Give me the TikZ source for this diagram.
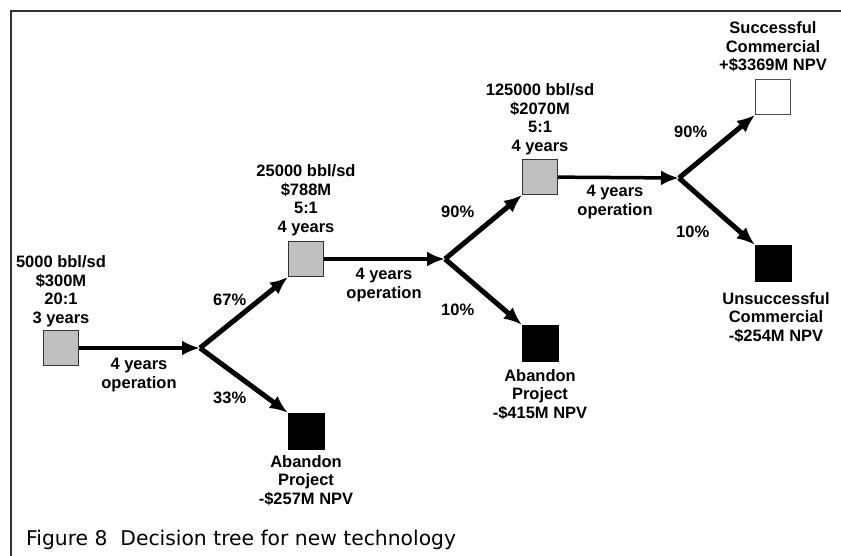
\documentclass[tikz,border=0pt]{standalone}
\usepackage{fontspec}
\setmainfont{Liberation Sans}
\newfontfamily\capfont{DejaVu Sans}
\usetikzlibrary{arrows.meta}
\definecolor{boxgrey}{RGB}{192,192,192}
\tikzset{
  greybox/.style={draw=black!80, line width=1pt, fill=boxgrey, minimum size=35pt, inner sep=0pt},
  blackbox/.style={draw=black, fill=black, minimum size=36pt, inner sep=0pt},
  whitebox/.style={draw=black!70, line width=1pt, fill=white, minimum size=35pt, inner sep=0pt},
  txt/.style={align=center, inner sep=0pt, font=\fontsize{16.5}{18.5}\selectfont\bfseries},
  flow/.style={line width=3.5pt, -{Latex[length=18pt,width=15pt]}},
  branch/.style={line width=5pt, -{Latex[length=18pt,width=15pt]}}
}
\begin{document}
\begin{tikzpicture}[x=1pt,y=-1pt]
      \useasboundingbox (0,0) rectangle (841,556);
      \draw [line width=2pt, black!80] (11,556) -- (11,11) -- (841,11);
      % boxes
      \draw (61,348) node [greybox] (b1) {};
      \draw (306,259) node [greybox] (b2) {};
      \draw (306,431) node [blackbox] (b3) {};
      \draw (540,177) node [greybox] (b4) {};
      \draw (540,343) node [blackbox] (b5) {};
      \draw (773,97) node [whitebox] (b6) {};
      \draw (773,263) node [blackbox] (b7) {};
      % chance points
      \coordinate (c1) at (200,348);
      \coordinate (c2) at (445,259);
      \coordinate (c3) at (679,178);
      % box texts
      \draw (61,327) node [txt, anchor=south] (t1) { 5000 bbl/sd\\ \$300M\\ 20:1\\ 3 years } ;
      \draw (306,236) node [txt, anchor=south] (t2) { 25000 bbl/sd\\ \$788M\\ 5:1\\ 4 years } ;
      \draw (306,455) node [txt, anchor=north] (t3) { Abandon\\ Project\\ -\$257M NPV } ;
      \draw (540,155) node [txt, anchor=south] (t4) { 125000 bbl/sd\\ \$2070M\\ 5:1\\ 4 years } ;
      \draw (540,369) node [txt, anchor=north] (t5) { Abandon\\ Project\\ -\$415M NPV } ;
      \draw (773,72) node [txt, anchor=south] (t6) { Successful\\ Commercial\\ +\$3369M NPV } ;
      \draw (776,292) node [txt, anchor=north] (t7) { Unsuccessful\\ Commercial\\ -\$254M NPV } ;
      % operation texts
      \draw (139,358) node [txt, anchor=north] (o1) { 4 years\\ operation } ;
      \draw (384,268) node [txt, anchor=north] (o2) { 4 years\\ operation } ;
      \draw (615,185) node [txt, anchor=north] (o3) { 4 years\\ operation } ;
      % probabilities
      \draw (232,300) node [txt] (p1) { 67\% } ;
      \draw (232,398) node [txt] (p2) { 33\% } ;
      \draw (460,212) node [txt] (p3) { 90\% } ;
      \draw (460,310) node [txt] (p4) { 10\% } ;
      \draw (693,132) node [txt] (p5) { 90\% } ;
      \draw (695,232) node [txt] (p6) { 10\% } ;
      % arrows
      \draw [flow] (b1) -- (c1);
      \draw [branch] (c1) -- (b2.south west);
      \draw [branch] (c1) -- (b3.north west);
      \draw [flow] (b2) -- (c2);
      \draw [branch] (c2) -- (b4.south west);
      \draw [branch] (c2) -- (b5.north west);
      \draw [flow] (b4) -- (c3);
      \draw [branch] (c3) -- (b6.south west);
      \draw [branch] (c3) -- (b7.north west);
      % caption
      \draw (26,540) node [anchor=west, inner sep=0pt, font=\capfont\fontsize{20.3}{24}\selectfont] (cap) { Figure 8\ \ Decision tree for new technology } ;
    \end{tikzpicture}
\end{document}
